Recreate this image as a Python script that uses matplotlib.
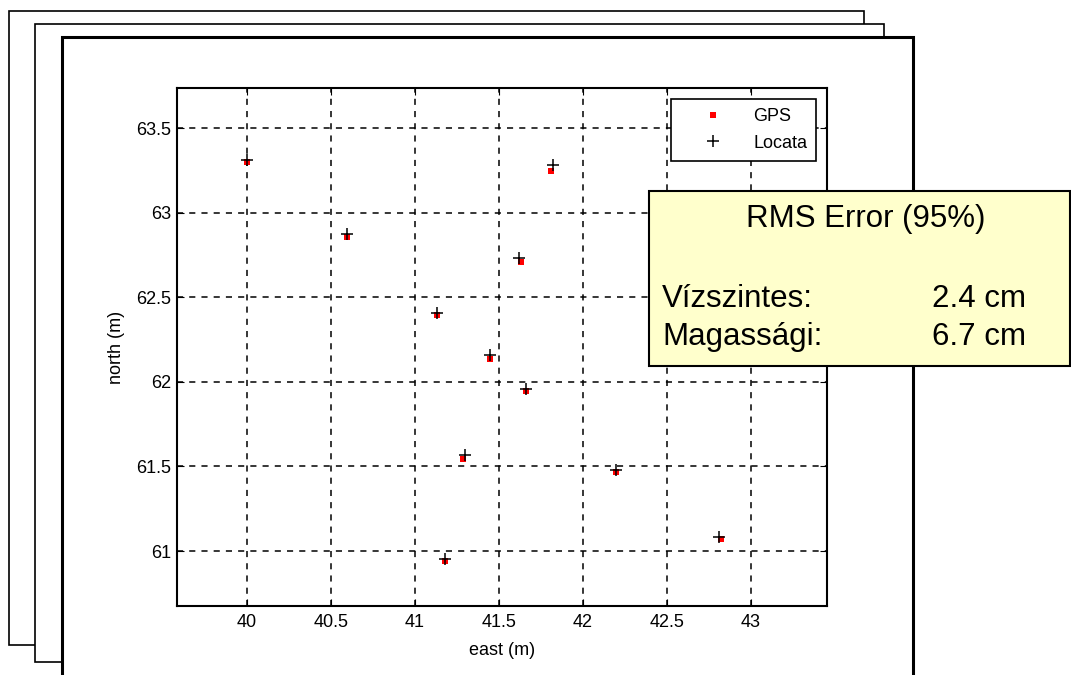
import matplotlib.pyplot as plt
from matplotlib.patches import Rectangle

# ------------- Data ------------- #
gps_east = [40.00, 40.60, 41.13, 41.81, 41.63, 41.45, 41.66, 41.29, 42.20, 42.82, 41.18]
gps_north = [63.30, 62.855, 62.395, 63.25, 62.71, 62.135, 61.945, 61.545, 61.465, 61.07, 60.943]
locata_east = [40.00, 40.60, 41.13, 41.82, 41.62, 41.45, 41.66, 41.30, 42.20, 42.81, 41.18]
locata_north = [63.315, 62.875, 62.41, 63.28, 62.73, 62.16, 61.96, 61.565, 61.48, 61.082, 60.952]

x_ticks = [40, 40.5, 41, 41.5, 42, 42.5, 43]
y_ticks = [61, 61.5, 62, 62.5, 63, 63.5]

box_title = 'RMS Error (95%)'
box_rows = ['Vízszintes:', 'Magassági:']
box_values = ['2.4 cm', '6.7 cm']

W, H = 1071, 675
plt.rcParams['font.family'] = ['Liberation Sans', 'DejaVu Sans']

fig = plt.figure(figsize=(W / 100, H / 100), dpi=100)


def fx(x):
    return x / W


def fy(y):
    return 1 - y / H


def page(x0, y0, x1, y1, lw, z):
    fig.add_artist(Rectangle((fx(x0), fy(y1)), fx(x1) - fx(x0), fy(y0) - fy(y1),
                             transform=fig.transFigure, facecolor='white',
                             edgecolor='black', linewidth=lw, zorder=z))


# ------------- Stacked pages ------------- #
page(9, 11, 864, 645, 1.2, -3)
page(35, 24, 884, 662, 1.2, -2)
page(62, 37, 913, 720, 2.2, -1)

# ------------- Plot ------------- #
ax = fig.add_axes([fx(177), fy(606), fx(827) - fx(177), fy(88) - fy(606)])
ax.set_zorder(0)
ax.plot(gps_east, gps_north, 's', color='red', markersize=4.2, markeredgewidth=0, label='GPS')
ax.plot(locata_east, locata_north, '+', color='black', markersize=9, markeredgewidth=1.1, label='Locata')

ax.set_xlim(39.586, 43.453)
ax.set_ylim(60.675, 63.738)
ax.set_xticks(x_ticks)
ax.set_xticklabels(['40', '40.5', '41', '41.5', '42', '42.5', '43'])
ax.set_yticks(y_ticks)
ax.set_yticklabels(['61', '61.5', '62', '62.5', '63', '63.5'])
ax.tick_params(direction='in', top=True, right=True, length=5, labelsize=13, pad=4)
ax.tick_params(axis='x', pad=6)
ax.grid(True, color='black', linestyle=(0, (4, 4)), linewidth=1.1)
for s in ax.spines.values():
    s.set_linewidth(1.5)
ax.set_xlabel('east (m)', fontsize=13, labelpad=8)
ax.set_ylabel('north (m)', fontsize=13, labelpad=8)

leg = ax.legend(loc='upper right', fancybox=False, edgecolor='black', framealpha=1,
                fontsize=13, borderaxespad=0.6, borderpad=0.5, labelspacing=0.55,
                handlelength=3.7, handletextpad=0.35)
leg.get_frame().set_linewidth(1.2)

# ------------- RMS box ------------- #
fig.add_artist(Rectangle((fx(649), fy(366)), fx(1070) - fx(649), fy(191) - fy(366),
                         transform=fig.transFigure, facecolor='#FFFFCC',
                         edgecolor='black', linewidth=1.5, zorder=5))
fig.text(fx(866), fy(219), box_title, fontsize=22.5, ha='center', va='center', zorder=6)
for i, (lab, val) in enumerate(zip(box_rows, box_values)):
    y = 299 + i * 38
    fig.text(fx(662), fy(y), lab, fontsize=22.5, ha='left', va='center', zorder=6)
    fig.text(fx(932), fy(y), val, fontsize=22.5, ha='left', va='center', zorder=6)

plt.savefig('out.png', dpi=100)
